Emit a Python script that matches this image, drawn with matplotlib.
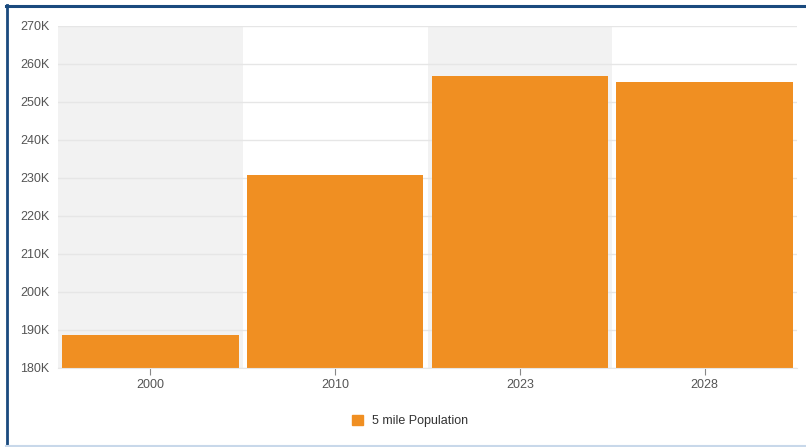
import matplotlib
matplotlib.use("Agg")
import matplotlib.pyplot as plt
from matplotlib.lines import Line2D
from matplotlib.patches import Patch
from matplotlib.ticker import FuncFormatter

plt.rcParams['font.family'] = ['Liberation Sans', 'DejaVu Sans']

# dados
anos = ['2000', '2010', '2023', '2028']
populacao = [188700, 230700, 256900, 255200]
serie = '5 mile Population'

laranja = '#f08f22'
cinza_txt = '#555555'

W, H = 806, 447
fig = plt.figure(figsize=(W / 100, H / 100), dpi=100)
ax = fig.add_axes([58 / W, (H - 368) / H, (797 - 58) / W, (368 - 26) / H])

# faixas cinza alternadas
for i in range(0, len(anos), 2):
    ax.axvspan(i - 0.5, i + 0.5, color='#f2f2f2', zorder=0, lw=0)

x = range(len(anos))
ax.bar(x, populacao, width=0.955, color=laranja, zorder=2)

ax.set_xlim(-0.5, len(anos) - 0.5)
ax.set_ylim(180000, 270000)
ax.set_yticks(range(180000, 270001, 10000))
ax.yaxis.set_major_formatter(FuncFormatter(lambda v, p: f'{int(v / 1000)}K'))
ax.set_xticks(list(x))
ax.set_xticklabels(anos)

ax.grid(axis='y', color='#e6e6e6', lw=1, zorder=1)
ax.set_axisbelow(True)
for s in ['top', 'right', 'left']:
    ax.spines[s].set_visible(False)
ax.spines['bottom'].set_color('#e6e6e6')
ax.tick_params(axis='y', length=0, labelsize=9, labelcolor=cinza_txt, pad=6)
ax.tick_params(axis='x', length=5, color='#888888', labelsize=9, labelcolor=cinza_txt, pad=3)
ax.set_facecolor('white')

# legenda
fig.legend(handles=[Patch(facecolor=laranja, edgecolor=laranja, label=serie)],
           loc='center', bbox_to_anchor=(410 / W, (H - 421) / H), frameon=False,
           fontsize=9, labelcolor='#333333', handlelength=0.9, handleheight=0.9,
           handletextpad=0.7)

# moldura
fig.add_artist(Line2D([7 / W, 7 / W], [0, (H - 5) / H], color='#1a4a7e', lw=2))
fig.add_artist(Line2D([6 / W, 1], [(H - 5.5) / H, (H - 5.5) / H], color='#1a4a7e', lw=2.2))
fig.add_artist(Line2D([6 / W, 1], [1.5 / H, 1.5 / H], color='#c8d8ea', lw=1.5))

fig.savefig('out.png', dpi=100)
